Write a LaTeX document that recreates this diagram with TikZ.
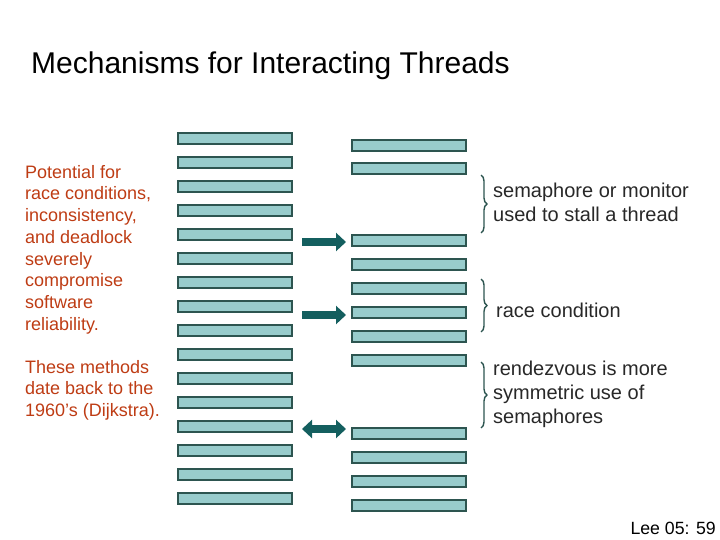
\documentclass[tikz,border=0pt]{standalone}
\usepackage{fontspec}
\setmainfont{Liberation Sans}
\usetikzlibrary{decorations.pathreplacing,arrows.meta}
\definecolor{barfill}{RGB}{152,204,204}
\definecolor{bardraw}{RGB}{45,85,80}
\definecolor{arr}{RGB}{20,95,95}
\definecolor{orng}{RGB}{190,60,20}
\definecolor{txt}{RGB}{40,40,40}
\begin{document}
\begin{tikzpicture}[x=1pt,y=-1pt,
  bar/.style={draw=bardraw,line width=2pt,fill=barfill,minimum width=114pt,minimum height=11pt,inner sep=0pt,anchor=north west},
  fat/.style={line width=8pt,draw=arr,-{Triangle[length=10pt,width=18pt]}},
  brc/.style={decorate,decoration={brace,amplitude=6pt},draw=bardraw,line width=1.4pt},
  rt/.style={anchor=west,align=left,font=\fontsize{20}{24}\selectfont,text=txt,inner sep=0pt}]
\useasboundingbox (0,0) rectangle (720,540);
\node[anchor=west,inner sep=0pt,font=\fontsize{30}{32}\selectfont,text=black] (title) at (31,66) {Mechanisms for Interacting Threads};
\foreach \i in {0,...,15}{
  \node[bar] (L\i) at (177,{132+24*\i}) {};
}
\foreach \y [count=\j] in {138,161,233,257,281,305,329,353,426,450,474,498}{
  \node[bar] (R\j) at (351,{\y+1}) {};
}
\coordinate (a1s) at (302,242); \coordinate (a1e) at (346,242);
\coordinate (a2s) at (302,315); \coordinate (a2e) at (346,315);
\coordinate (a3s) at (302,429); \coordinate (a3e) at (346,429);
\draw[fat] (a1s) -- (a1e);
\draw[fat] (a2s) -- (a2e);
\draw[line width=8pt,draw=arr,{Triangle[length=10pt,width=18pt]}-{Triangle[length=10pt,width=18pt]}] (a3s) -- (a3e);
\coordinate (b1t) at (481,175); \coordinate (b1b) at (481,233);
\coordinate (b2t) at (481,279); \coordinate (b2b) at (481,332);
\coordinate (b3t) at (481,362); \coordinate (b3b) at (481,428);
\draw[brc] (b1t) -- (b1b);
\draw[brc] (b2t) -- (b2b);
\draw[brc] (b3t) -- (b3b);
\node[rt] (t1) at (493,202) {semaphore or monitor\\used to stall a thread};
\node[rt] (t2) at (496,310) {race condition};
\node[rt] (t3) at (493,394) {rendezvous is more\\symmetric use of\\semaphores};
\node[anchor=north west,align=left,inner sep=0pt,text=orng,font=\fontsize{18}{21.7}\selectfont] (lt1) at (25,165) {Potential for\\race conditions,\\inconsistency,\\and deadlock\\severely\\compromise\\software\\reliability.};
\node[anchor=north west,align=left,inner sep=0pt,text=orng,font=\fontsize{18}{21.7}\selectfont] (lt2) at (25,360) {These methods\\date back to the\\1960’s (Dijkstra).};
\node[anchor=east,inner sep=0pt,font=\fontsize{17.7}{18}\selectfont,text=black] (pg) at (716,528) {Lee 05: 59};
\end{tikzpicture}
\end{document}
